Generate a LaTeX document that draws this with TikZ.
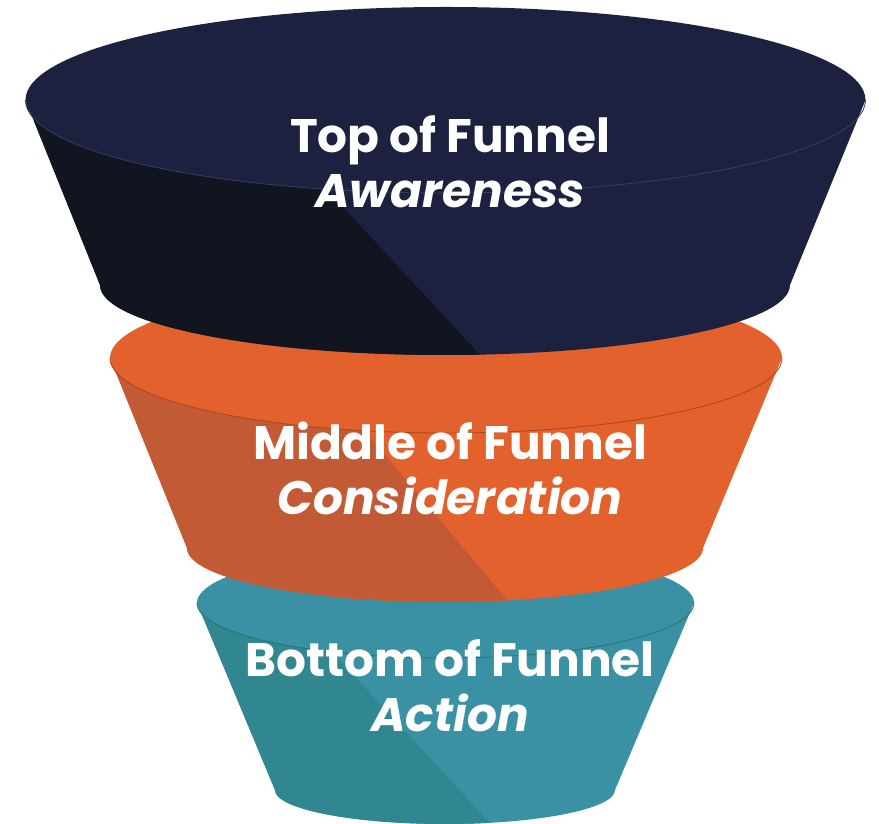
\documentclass[tikz,border=0pt]{standalone}
\usepackage{fontspec}
\setmainfont{Poppins}
\usetikzlibrary{positioning}

\definecolor{navyTop}{HTML}{1D2140}
\definecolor{navySide}{HTML}{11151F}
\definecolor{navyRim}{HTML}{34405E}
\definecolor{orangeTop}{HTML}{E2612D}
\definecolor{orangeSide}{HTML}{C25B35}
\definecolor{orangeRim}{HTML}{A9471F}
\definecolor{tealTop}{HTML}{3A91A4}
\definecolor{tealSide}{HTML}{30878F}
\definecolor{tealRim}{HTML}{2A6F7A}

\begin{document}
\begin{tikzpicture}[x=1pt,y=1pt]

    %
    % Styles for the stage texts and the rims
    %
    \tikzstyle{stageTitle} = [anchor=base, inner sep=0pt, text=white,
                              font={\fontsize{47}{52}\selectfont\bfseries}];
    \tikzstyle{stageName} = [stageTitle, font={\fontsize{47}{52}\selectfont\bfseries\itshape}];
    \tikzstyle{rim} = [line width=0.8pt];

    \useasboundingbox (0,0) rectangle (879,824);

    %
    % Bottom of funnel
    %
    \fill[tealTop] (197,221) -- (275,34)
      arc[start angle=180, end angle=360, x radius=170, y radius=34] -- (694,221)
      arc[start angle=0, end angle=180, x radius=248.5, y radius=55] -- cycle;
    \begin{scope}
      \clip (197,221) -- (275,34)
        arc[start angle=180, end angle=360, x radius=170, y radius=34] -- (694,221)
        arc[start angle=0, end angle=-180, x radius=248.5, y radius=55] -- cycle;
      \fill[tealSide] (213,301) -- (500,-10) -- (0,-10) -- (0,301) -- cycle;
    \end{scope}
    \draw[rim, tealRim] (694,221) arc[start angle=0, end angle=-180, x radius=248.5, y radius=55];

    %
    % Middle of funnel
    %
    \fill[orangeTop] (110,466) -- (187,276)
      arc[start angle=180, end angle=360, x radius=258, y radius=54] -- (782,466)
      arc[start angle=0, end angle=180, x radius=336, y radius=75] -- cycle;
    \begin{scope}
      \clip (110,466) -- (187,276)
        arc[start angle=180, end angle=360, x radius=258, y radius=54] -- (782,466)
        arc[start angle=0, end angle=-180, x radius=336, y radius=75] -- cycle;
      \fill[orangeSide] (283,491) -- (521,207) -- (0,207) -- (0,491) -- cycle;
    \end{scope}
    \draw[rim, orangeRim] (782,466) arc[start angle=0, end angle=-180, x radius=336, y radius=75];

    %
    % Top of funnel
    %
    \fill[navyTop] (25.5,724) -- (100,539)
      arc[start angle=180, end angle=360, x radius=345, y radius=70] -- (865.5,724)
      arc[start angle=0, end angle=180, x radius=420, y radius=93] -- cycle;
    \begin{scope}
      \clip (25.5,724) -- (100,539)
        arc[start angle=180, end angle=360, x radius=345, y radius=70] -- (865.5,724)
        arc[start angle=0, end angle=-180, x radius=420, y radius=93] -- cycle;
      \fill[navySide] (240,728) -- (495,453) -- (0,453) -- (0,728) -- cycle;
    \end{scope}
    \draw[rim, navyRim] (865.5,724) arc[start angle=0, end angle=-180, x radius=420, y radius=93];

    %
    % Stage labels
    %
    \node[stageTitle] (topTitle) at (450,671) {Top of Funnel};
    \node[stageName] (topName) at ([yshift=-55pt]topTitle.base) {Awareness};

    \node[stageTitle] (middleTitle) at (450,364) {Middle of Funnel};
    \node[stageName] (middleName) at ([yshift=-55pt]middleTitle.base) {Consideration};

    \node[stageTitle] (bottomTitle) at (450,147) {Bottom of Funnel};
    \node[stageName] (bottomName) at ([yshift=-55pt]bottomTitle.base) {Action};
  \end{tikzpicture}
\end{document}
